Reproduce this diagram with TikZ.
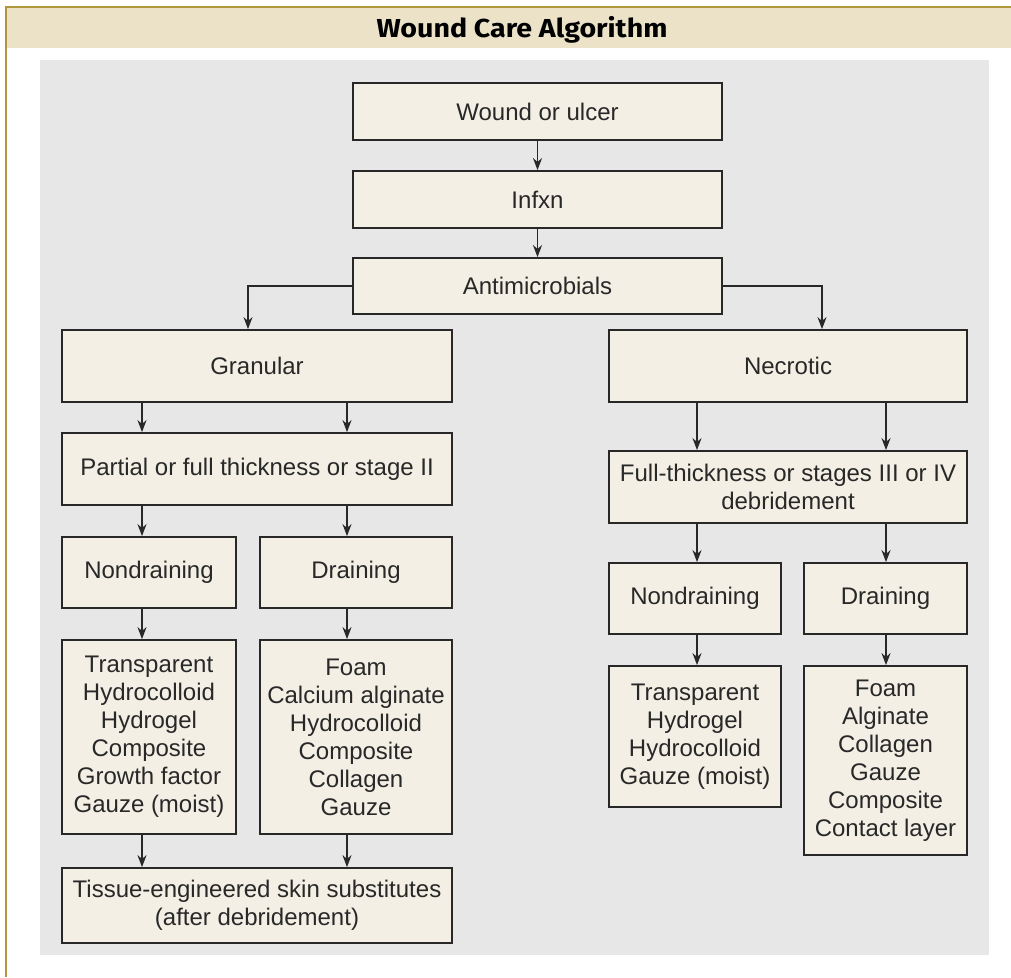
\documentclass[tikz,border=0pt]{standalone}
\usepackage{fontspec}
\setmainfont{Liberation Sans}
\newfontfamily\titlefont[FakeStretch=1.1]{Fira Sans}
\usetikzlibrary{arrows.meta}
\definecolor{band}{RGB}{235,226,200}
\definecolor{rim}{RGB}{176,150,60}
\definecolor{panel}{RGB}{231,231,231}
\definecolor{boxfill}{RGB}{243,239,228}
\definecolor{ink}{RGB}{40,40,40}

\begin{document}
\begin{tikzpicture}[x=1pt, y=-1pt, >={Stealth[length=12pt,width=9pt]}, ink,
	box/.style={draw=ink, fill=boxfill, line width=1.8pt, align=center, text=ink,
		font=\fontsize{24}{28}\selectfont, inner sep=2pt},
	arr/.style={->, line width=1.7pt}]

	\useasboundingbox (0,0) rectangle (1011,977);
	\fill[white] (0,0) rectangle (1011,977);
	\fill[band] (6,7) rectangle (1011,48);
	\draw[rim, line width=2pt] (1011,7) -- (6,7) -- (6,977);
	\fill[panel] (40,60) rectangle (989,955);
	\node[text=black] (title) at (522,30) {\titlefont\bfseries\fontsize{26}{30}\selectfont Wound Care Algorithm};

	\node[box, minimum width=369pt, minimum height=57pt] (wound) at (537.5,111.5) {Wound or ulcer};
	\node[box, minimum width=369pt, minimum height=57pt] (infxn) at (537.5,199.5) {Infxn};
	\node[box, minimum width=369pt, minimum height=56pt] (anti) at (537.5,286) {Antimicrobials};

	\node[box, minimum width=390pt, minimum height=72pt] (gran) at (257,366) {Granular};
	\node[box, minimum width=358pt, minimum height=72pt] (necro) at (788,366) {Necrotic};

	\node[box, minimum width=390pt, minimum height=72pt] (partial) at (257,469) {Partial or full thickness or stage II};
	\node[box, minimum width=358pt, minimum height=72pt] (full) at (788,487) {Full-thickness or stages III or IV\\debridement};

	\node[box, minimum width=174pt, minimum height=71pt] (gnondrain) at (149,572.5) {Nondraining};
	\node[box, minimum width=192pt, minimum height=71pt] (gdrain) at (356,572.5) {Draining};
	\node[box, minimum width=172pt, minimum height=71pt] (nnondrain) at (695,598.5) {Nondraining};
	\node[box, minimum width=163pt, minimum height=71pt] (ndrain) at (885.5,598.5) {Draining};

	\node[box, minimum width=174pt, minimum height=194pt] (glist1) at (149,737)
		{Transparent\\Hydrocolloid\\Hydrogel\\Composite\\Growth factor\\Gauze (moist)};
	\node[box, minimum width=192pt, minimum height=194pt] (glist2) at (356,737)
		{Foam\\Calcium alginate\\Hydrocolloid\\Composite\\Collagen\\Gauze};
	\node[box, minimum width=172pt, minimum height=141pt] (nlist1) at (695,736.5)
		{Transparent\\Hydrogel\\Hydrocolloid\\Gauze (moist)};
	\node[box, minimum width=163pt, minimum height=189pt] (nlist2) at (885.5,760.5)
		{Foam\\Alginate\\Collagen\\Gauze\\Composite\\Contact layer};

	\node[box, minimum width=390pt, minimum height=75pt] (tissue) at (257,905.5)
		{Tissue-engineered skin substitutes\\(after debridement)};

	\coordinate (gx) at (248,0);
	\coordinate (nx) at (822,0);
	\coordinate (c1) at (142,0);
	\coordinate (c2) at (347,0);
	\coordinate (c3) at (697,0);
	\coordinate (c4) at (886,0);

	\draw[arr] (wound) -- (infxn);
	\draw[arr] (infxn) -- (anti);
	\draw[arr] (anti.west) -| (gran.north -| gx);
	\draw[arr] (anti.east) -| (necro.north -| nx);

	\draw[arr] (gran.south -| c1) -- (partial.north -| c1);
	\draw[arr] (gran.south -| c2) -- (partial.north -| c2);
	\draw[arr] (partial.south -| c1) -- (gnondrain.north -| c1);
	\draw[arr] (partial.south -| c2) -- (gdrain.north -| c2);
	\draw[arr] (gnondrain.south -| c1) -- (glist1.north -| c1);
	\draw[arr] (gdrain.south -| c2) -- (glist2.north -| c2);
	\draw[arr] (glist1.south -| c1) -- (tissue.north -| c1);
	\draw[arr] (glist2.south -| c2) -- (tissue.north -| c2);

	\draw[arr] (necro.south -| c3) -- (full.north -| c3);
	\draw[arr] (necro.south -| c4) -- (full.north -| c4);
	\draw[arr] (full.south -| c3) -- (nnondrain.north -| c3);
	\draw[arr] (full.south -| c4) -- (ndrain.north -| c4);
	\draw[arr] (nnondrain.south -| c3) -- (nlist1.north -| c3);
	\draw[arr] (ndrain.south -| c4) -- (nlist2.north -| c4);
\end{tikzpicture}
\end{document}
